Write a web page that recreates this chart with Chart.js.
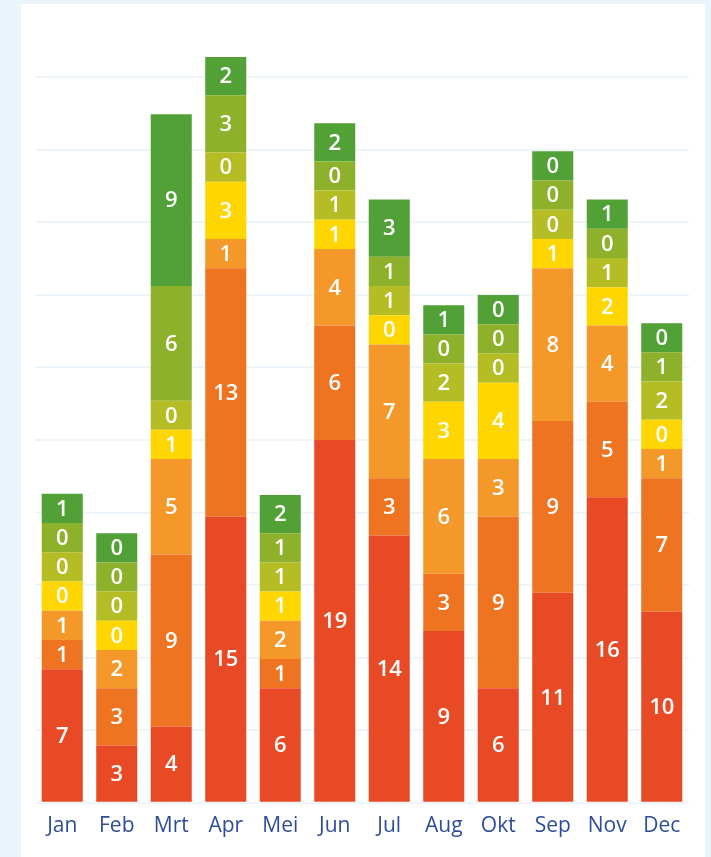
<!DOCTYPE html>
<html>
<head>
<meta charset="utf-8">
<script src="https://cdn.jsdelivr.net/npm/chart.js@4"></script>
<style>
    body {
        margin: 0;
        background: #e9f4fb;
    }
    .kaart {
        position: absolute;
        left: 21px;
        top: 4px;
        width: 684px;
        height: 853px;
        background: #ffffff;
    }
</style>
</head>
<body>
<div class="kaart">
    <canvas id="grafiek" width="684" height="853"></canvas>
</div>
<script>
// Maanden (zoals in het origineel, Okt staat voor Sep)
const maanden = ['Jan', 'Feb', 'Mrt', 'Apr', 'Mei', 'Jun', 'Jul', 'Aug', 'Okt', 'Sep', 'Nov', 'Dec'];

// Waarden per reeks, van onder naar boven gestapeld
const reeks1 = [7, 3, 4, 15, 6, 19, 14, 9, 6, 11, 16, 10];
const reeks2 = [1, 3, 9, 13, 1, 6, 3, 3, 9, 9, 5, 7];
const reeks3 = [1, 2, 5, 1, 2, 4, 7, 6, 3, 8, 4, 1];
const reeks4 = [0, 0, 1, 3, 1, 1, 0, 3, 4, 1, 2, 0];
const reeks5 = [0, 0, 0, 0, 1, 1, 1, 2, 0, 0, 1, 2];
const reeks6 = [0, 0, 6, 3, 1, 0, 1, 0, 0, 0, 0, 1];
const reeks7 = [1, 0, 9, 2, 2, 2, 3, 1, 0, 0, 1, 0];

const kleuren = ['#e84a26', '#ee7421', '#f4982a', '#ffd600', '#b5bd24', '#8db12a', '#52a136'];

// kleine segmenten (0 en 1) krijgen een minimale hoogte zodat het label past
const MIN_HOOGTE = 1.53;

const alleReeksen = [reeks1, reeks2, reeks3, reeks4, reeks5, reeks6, reeks7];

const datasets = alleReeksen.map((reeks, i) => ({
    label: 'Reeks ' + (i + 1),
    data: reeks.map(v => Math.max(v, MIN_HOOGTE)),
    echteWaarden: reeks,
    backgroundColor: kleuren[i],
    borderWidth: 0,
    barPercentage: 0.753,
    categoryPercentage: 1
}));

// Labels in het midden van elk segment
const labelPlugin = {
    id: 'segmentLabels',
    afterDatasetsDraw(chart) {
        const c = chart.ctx;
        c.save();
        c.fillStyle = '#ffffff';
        c.font = '600 22px "Open Sans", sans-serif';
        c.textAlign = 'center';
        c.textBaseline = 'middle';
        chart.data.datasets.forEach((ds, i) => {
            const meta = chart.getDatasetMeta(i);
            meta.data.forEach((bar, j) => {
                const midden = (bar.y + bar.base) / 2;
                c.fillText(String(ds.echteWaarden[j]), bar.x, midden + 1);
            });
        });
        c.restore();
    }
};

const ctx = document.getElementById('grafiek').getContext('2d');

new Chart(ctx, {
    type: 'bar',
    data: {
        labels: maanden,
        datasets: datasets
    },
    options: {
        responsive: false,
        animation: false,
        layout: {
            padding: { left: 14, right: 16, top: 35, bottom: 15 }
        },
        plugins: {
            legend: { display: false },
            tooltip: { enabled: false }
        },
        scales: {
            x: {
                stacked: true,
                grid: { display: false },
                border: { display: false },
                ticks: {
                    color: '#2d4d9b',
                    font: { family: '"Open Sans", sans-serif', size: 21 },
                    padding: 3
                }
            },
            y: {
                stacked: true,
                min: 0,
                max: 40,
                border: { display: false },
                grid: { color: '#edf4fa', lineWidth: 2, drawTicks: false },
                ticks: { display: false },
                afterBuildTicks(scale) {
                    const stappen = [];
                    for (let k = 0; k <= 10; k++) stappen.push({ value: k * 3.8 });
                    scale.ticks = stappen;
                }
            }
        }
    },
    plugins: [labelPlugin]
});
</script>
</body>
</html>
